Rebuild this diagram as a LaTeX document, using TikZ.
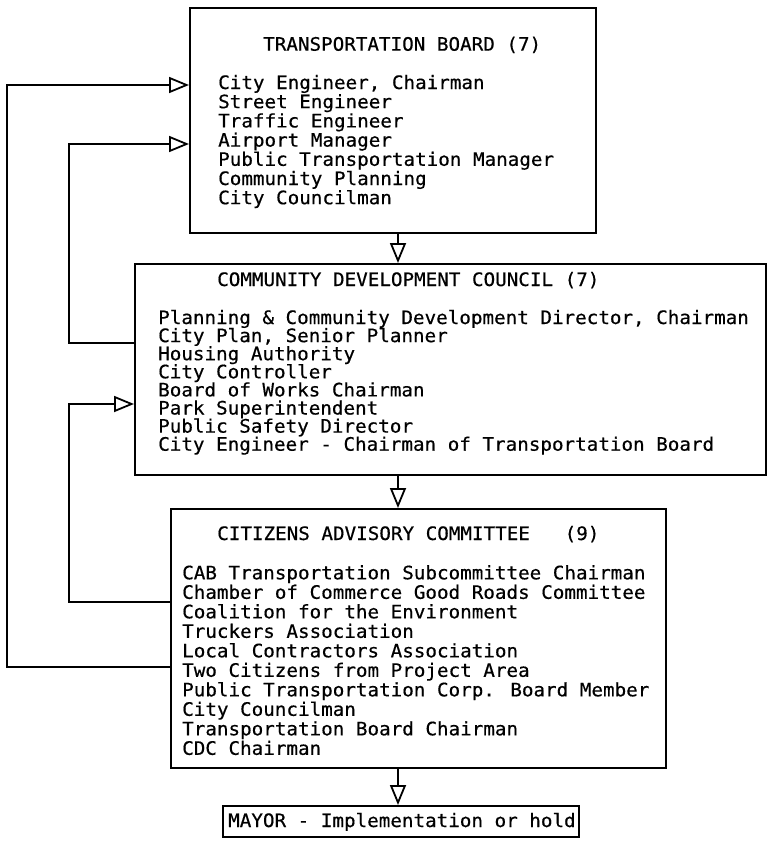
\documentclass[tikz,border=0pt]{standalone}
\usepackage{fontspec}
\newfontfamily\tw{DejaVu Sans Mono}[FakeStretch=1.04,FakeBold=0.5]
\usetikzlibrary{arrows.meta}
\tikzset{
  box/.style={draw, line width=1.9pt, rectangle, inner sep=0pt, anchor=north west},
  txt/.style={anchor=base west, inner sep=0pt, font=\tw\fontsize{18.5}{19}\selectfont},
  flow/.style={line width=1.9pt, line join=miter, -{Triangle[open,length=20pt,width=16pt,line width=1.8pt]}}
}
\begin{document}
\begin{tikzpicture}[x=1pt,y=-1pt]
\useasboundingbox (0,0) rectangle (766,843);
% boxes
\node[box, minimum width=406pt, minimum height=225pt] (tb) at (189,7) {};
\node[box, minimum width=631pt, minimum height=211pt] (cdc) at (134,263) {};
\node[box, minimum width=495pt, minimum height=259pt] (cac) at (170,508) {};
\node[box, minimum width=356pt, minimum height=31pt] (mayor) at (222,805) {};
% titles
\node[txt] (tbt) at (263,50.7) {TRANSPORTATION BOARD (7)};
\node[txt] (cdct) at (217,286) {COMMUNITY DEVELOPMENT COUNCIL (7)};
\node[txt] (cact) at (217,540) {CITIZENS ADVISORY COMMITTEE~~~(9)};
\node[txt] (mayt) at (228,827) {MAYOR - Implementation or hold};
% members
\foreach \t [count=\i] in {{City Engineer, Chairman},{Street Engineer},{Traffic Engineer},{Airport Manager},{Public Transportation Manager},{Community Planning},{City Councilman}}
  \node[txt] (tb\i) at (218,{89+19.2*(\i-1)}) {\t};
\foreach \t [count=\i] in {{Planning \& Community Development Director, Chairman},{City Plan, Senior Planner},{Housing Authority},{City Controller},{Board of Works Chairman},{Park Superintendent},{Public Safety Director},{City Engineer - Chairman of Transportation Board}}
  \node[txt] (cdc\i) at (158,{324+18.1*(\i-1)}) {\t};
\foreach \t [count=\i] in {{CAB Transportation Subcommittee Chairman},{Chamber of Commerce Good Roads Committee},{Coalition for the Environment},{Truckers Association},{Local Contractors Association},{Two Citizens from Project Area},{Public Transportation Corp. Board Member},{City Councilman},{Transportation Board Chairman},{CDC Chairman}}
  \node[txt] (cac\i) at (182,{579.3+19.5*(\i-1)}) {\t};
% helper coordinates
\coordinate (ax) at (398,0);
\coordinate (oA) at (7,85);
\coordinate (oB) at (7,667);
\coordinate (iA) at (69,144);
\coordinate (iB) at (69,343);
\coordinate (jA) at (69,404);
\coordinate (jB) at (69,602);
% vertical flow
\draw[flow] (tb.south -| ax) -- (cdc.north -| ax);
\draw[flow] (cdc.south -| ax) -- (cac.north -| ax);
\draw[flow] (cac.south -| ax) -- (mayor.north -| ax);
% feedback loops
\draw[flow] (cac.west |- oB) -- (oB) -- (oA) -- (tb.west |- oA);
\draw[flow] (cdc.west |- iB) -- (iB) -- (iA) -- (tb.west |- iA);
\draw[flow] (cac.west |- jB) -- (jB) -- (jA) -- (cdc.west |- jA);
\end{tikzpicture}
\end{document}
